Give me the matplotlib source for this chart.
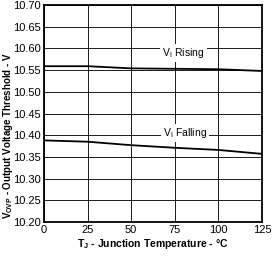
import numpy as np
import matplotlib.pyplot as plt

plt.rcParams['font.family'] = ['Liberation Sans', 'DejaVu Sans']

temps = [0, 25, 50, 75, 100, 125]
v_rising = [10.559, 10.559, 10.554, 10.553, 10.552, 10.548]
v_falling = [10.388, 10.385, 10.377, 10.371, 10.366, 10.357]

xticks = [0, 25, 50, 75, 100, 125]
yticks = np.round(np.arange(10.20, 10.701, 0.05), 2)

fig = plt.figure(figsize=(2.74, 2.56), dpi=100)
ax = fig.add_axes([44 / 274, 34 / 256, 218 / 274, 217 / 256])

ax.plot(temps, v_rising, color='black', lw=1.3, zorder=3)
ax.plot(temps, v_falling, color='black', lw=1.3, zorder=3)

ax.set_xlim(0, 125)
ax.set_ylim(10.20, 10.70)
ax.set_xticks(xticks)
ax.set_yticks(yticks)
ax.set_yticklabels([f"{v:.2f}" for v in yticks])
ax.grid(True, color='0.1', lw=0.7)
ax.tick_params(length=0, labelsize=8, pad=2.5)
for s in ax.spines.values():
    s.set_linewidth(1.3)

ax.text(80, 10.59, r"V$_\mathregular{I}$ Rising", fontsize=7.5, ha='center', va='center',
        bbox=dict(facecolor='white', edgecolor='none', pad=1.5), zorder=4)
ax.text(81, 10.405, r"V$_\mathregular{I}$ Falling", fontsize=7.5, ha='center', va='center',
        bbox=dict(facecolor='white', edgecolor='none', pad=1.5), zorder=4)

ax.set_xlabel(r"T$_\mathregular{J}$ - Junction Temperature - °C", fontsize=7.5, fontweight='bold', labelpad=1)
ax.set_ylabel(r"V$_\mathregular{OVP}$ - Output Voltage Threshold - V", fontsize=7, fontweight='bold')
ax.yaxis.set_label_coords(-0.135, 0.40)

fig.savefig('out.png', dpi=100)
